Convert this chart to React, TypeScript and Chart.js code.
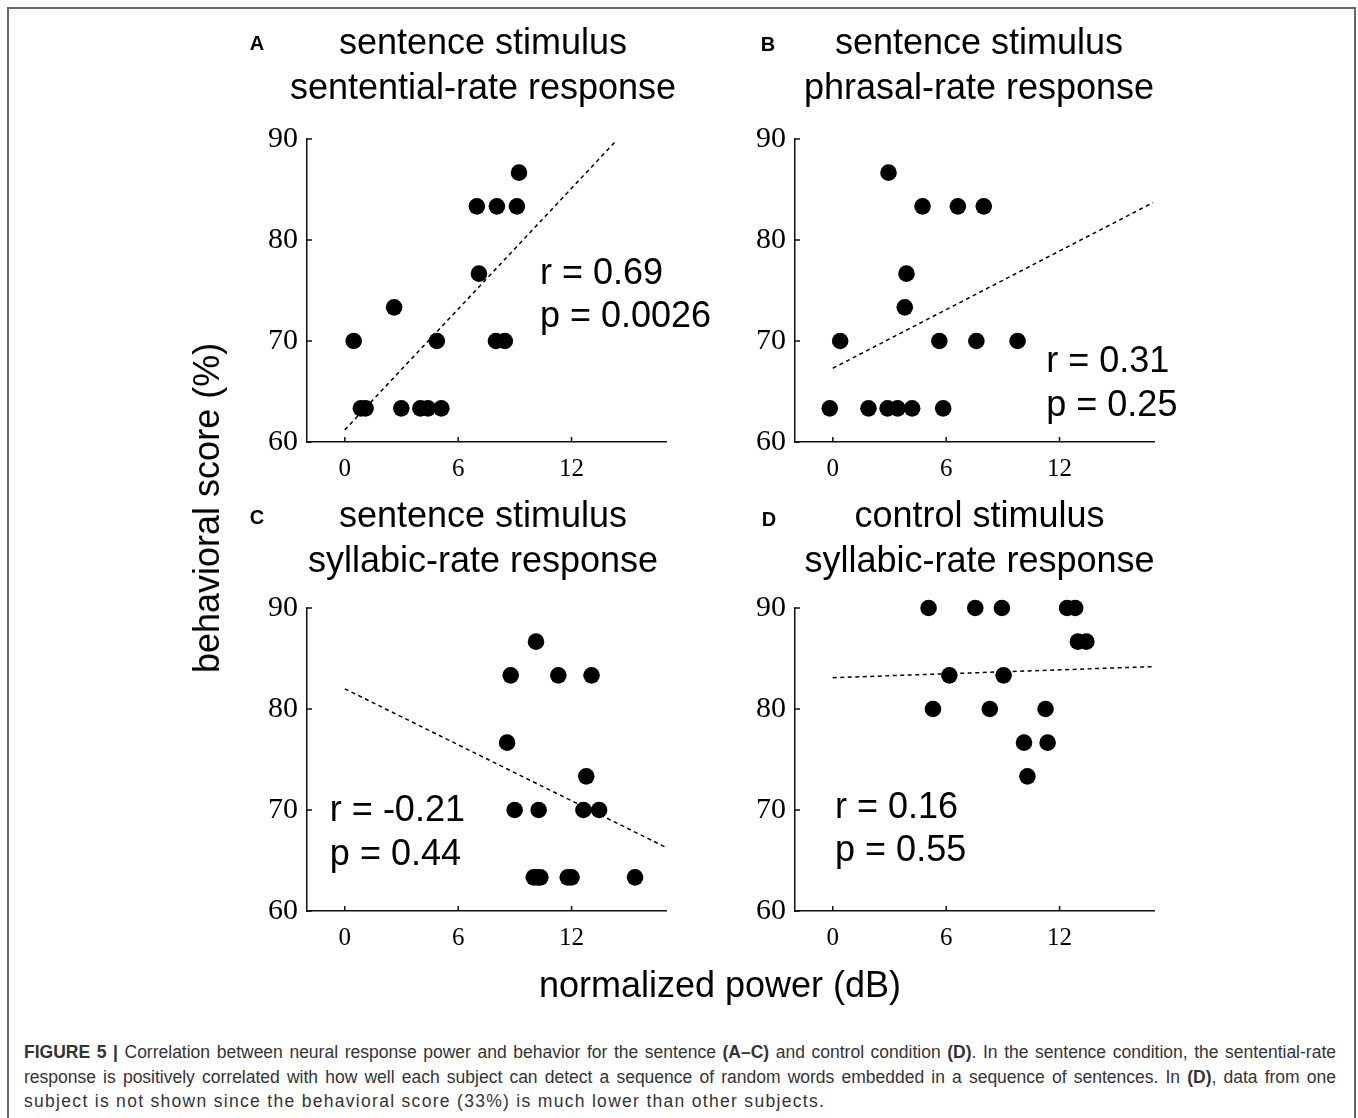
import React, { useEffect, useRef } from 'react';
import { Chart, registerables } from 'chart.js';

Chart.register(...registerables);

// ---------- data ----------
const X_TICKS = [0, 6, 12];
const Y_TICKS = [60, 70, 80, 90];
const X_MIN = -2;
const X_MAX = 17;
const Y_MIN = 60;
const Y_MAX = 90;

// Panel A: sentence stimulus, sentential-rate response
const A_X = [0.47, 0.85, 1.1, 2.61, 2.99, 4.0, 4.4, 5.11, 4.87, 6.99, 8.05, 9.11, 7.1, 8.0, 8.47, 9.22];
const A_Y = [70, 63.33, 63.33, 73.33, 63.33, 63.33, 63.33, 63.33, 70, 83.33, 83.33, 83.33, 76.67, 70, 70, 86.67];
const A_FIT_X = [0, 14.4];
const A_FIT_Y = [61.2, 89.9];

// Panel B: sentence stimulus, phrasal-rate response
const B_X = [2.95, 4.75, 6.62, 7.99, 3.9, 3.81, 0.39, 5.64, 7.6, 9.78, -0.16, 1.89, 2.9, 3.43, 4.2, 5.84];
const B_Y = [86.67, 83.33, 83.33, 83.33, 76.67, 73.33, 70, 70, 70, 70, 63.33, 63.33, 63.33, 63.33, 63.33, 63.33];
const B_FIT_X = [0, 16.95];
const B_FIT_Y = [67.3, 83.7];

// Panel C: sentence stimulus, syllabic-rate response
const C_X = [10.12, 8.78, 11.3, 13.06, 8.59, 12.78, 8.99, 10.26, 12.63, 13.46, 10.0, 10.2, 10.35, 11.8, 12.0, 15.36];
const C_Y = [86.67, 83.33, 83.33, 83.33, 76.67, 73.33, 70, 70, 70, 70, 63.33, 63.33, 63.33, 63.33, 63.33, 63.33];
const C_FIT_X = [0, 17];
const C_FIT_Y = [82.0, 66.3];

// Panel D: control stimulus, syllabic-rate response
const D_X = [5.07, 7.54, 8.95, 12.4, 12.83, 12.97, 13.42, 6.17, 9.04, 5.3, 8.31, 11.26, 10.12, 11.37, 10.3];
const D_Y = [90, 90, 90, 90, 90, 86.67, 86.67, 83.33, 83.33, 80, 80, 80, 76.67, 76.67, 73.33];
const D_FIT_X = [0, 17];
const D_FIT_Y = [83.1, 84.2];

const TITLE_A = ['sentence stimulus', 'sentential-rate response'];
const TITLE_B = ['sentence stimulus', 'phrasal-rate response'];
const TITLE_C = ['sentence stimulus', 'syllabic-rate response'];
const TITLE_D = ['control stimulus', 'syllabic-rate response'];

const STATS_A = ['r = 0.69', 'p = 0.0026'];
const STATS_B = ['r = 0.31', 'p = 0.25'];
const STATS_C = ['r = -0.21', 'p = 0.44'];
const STATS_D = ['r = 0.16', 'p = 0.55'];

const Y_LABEL = 'behavioral score (%)';
const X_LABEL = 'normalized power (dB)';

const CAPTION_1_PARTS: [string, boolean][] = [
  ['FIGURE 5 |', true],
  [' Correlation between neural response power and behavior for the sentence ', false],
  ['(A–C)', true],
  [' and control condition ', false],
  ['(D)', true],
  ['. In the sentence condition, the sentential-rate', false],
];
const CAPTION_2_PARTS: [string, boolean][] = [
  ['response is positively correlated with how well each subject can detect a sequence of random words embedded in a sequence of sentences. In ', false],
  ['(D)', true],
  [', data from one', false],
];
const CAPTION_3 = 'subject is not shown since the behavioral score (33%) is much lower than other subjects.';

// ---------- layout ----------
const PLOT_W = 359;
const PLOT_H = 303;
const PAD_L = 110;
const PAD_T = 139;
const PAD_R = 60;
const PAD_B = 60;
const Y_AXIS_W = 60;
const X_AXIS_H = 45;

const SANS = '"Liberation Sans", Arial, sans-serif';
const SERIF = '"Liberation Serif", "Times New Roman", serif';

type PanelCfg = {
  letter: string;
  xs: number[];
  ys: number[];
  fitX: number[];
  fitY: number[];
  title: string[];
  stats: string[];
  plotLeft: number;
  plotTop: number;
  titleDx: number;
  titleDy: number;
  letterDx: number;
  letterDy: number;
  statX: number;
  statY1: number;
  statY2: number;
};

const PANELS: PanelCfg[] = [
  { letter: 'A', xs: A_X, ys: A_Y, fitX: A_FIT_X, fitY: A_FIT_Y, title: TITLE_A, stats: STATS_A,
    plotLeft: 307, plotTop: 139, titleDx: 176, titleDy: -95, letterDx: -50, letterDy: -94.5,
    statX: 10.33, statY1: 76.73, statY2: 72.5 },
  { letter: 'B', xs: B_X, ys: B_Y, fitX: B_FIT_X, fitY: B_FIT_Y, title: TITLE_B, stats: STATS_B,
    plotLeft: 795, plotTop: 139, titleDx: 184, titleDy: -95, letterDx: -27, letterDy: -94,
    statX: 11.3, statY1: 67.98, statY2: 63.69 },
  { letter: 'C', xs: C_X, ys: C_Y, fitX: C_FIT_X, fitY: C_FIT_Y, title: TITLE_C, stats: STATS_C,
    plotLeft: 307, plotTop: 608, titleDx: 176, titleDy: -91, letterDx: -50, letterDy: -90,
    statX: -0.79, statY1: 70.04, statY2: 65.6 },
  { letter: 'D', xs: D_X, ys: D_Y, fitX: D_FIT_X, fitY: D_FIT_Y, title: TITLE_D, stats: STATS_D,
    plotLeft: 795, plotTop: 608, titleDx: 184.5, titleDy: -91, letterDx: -26, letterDy: -88,
    statX: 0.12, statY1: 70.3, statY2: 66.0 },
];

function Panel({ cfg }: { cfg: PanelCfg }) {
  const ref = useRef<HTMLCanvasElement>(null);
  const cw = PAD_L + PLOT_W + PAD_R;
  const ch = PAD_T + PLOT_H + PAD_B;

  useEffect(() => {
    const canvas = ref.current;
    if (!canvas) return;

    const textPlugin = {
      id: 'panelText',
      afterDraw(chart: any) {
        const { ctx, chartArea: ca } = chart;
        const xs = chart.scales.x;
        const ys = chart.scales.y;
        ctx.save();
        // inward tick marks
        ctx.strokeStyle = '#111';
        ctx.lineWidth = 1.5;
        ctx.beginPath();
        X_TICKS.forEach((v) => {
          const px = xs.getPixelForValue(v);
          ctx.moveTo(px, ca.bottom);
          ctx.lineTo(px, ca.bottom - 5);
        });
        Y_TICKS.forEach((v) => {
          const py = ys.getPixelForValue(v);
          ctx.moveTo(ca.left, py);
          ctx.lineTo(ca.left + 5, py);
        });
        ctx.stroke();

        ctx.fillStyle = '#000';
        // title
        ctx.font = `36px ${SANS}`;
        ctx.textAlign = 'center';
        ctx.textBaseline = 'middle';
        cfg.title.forEach((line, i) => {
          ctx.fillText(line, ca.left + cfg.titleDx, ca.top + cfg.titleDy + i * 45);
        });
        // letter
        ctx.font = `bold 20px ${SANS}`;
        ctx.fillText(cfg.letter, ca.left + cfg.letterDx, ca.top + cfg.letterDy);
        // stats
        ctx.font = `36px ${SANS}`;
        ctx.textAlign = 'left';
        const sx = xs.getPixelForValue(cfg.statX);
        ctx.fillText(cfg.stats[0], sx, ys.getPixelForValue(cfg.statY1) + 1);
        ctx.fillText(cfg.stats[1], sx, ys.getPixelForValue(cfg.statY2) + 1);
        ctx.restore();
      },
    };

    const chart = new Chart(canvas, {
      type: 'scatter',
      data: {
        datasets: [
          {
            data: cfg.xs.map((x, i) => ({ x, y: cfg.ys[i] })),
            pointRadius: 8.3,
            pointHoverRadius: 8.3,
            pointBackgroundColor: '#000',
            pointBorderColor: '#000',
            pointBorderWidth: 0,
            clip: false as any,
            order: 1,
          },
          {
            data: cfg.fitX.map((x, i) => ({ x, y: cfg.fitY[i] })),
            showLine: true,
            borderColor: '#000',
            borderWidth: 1.5,
            borderDash: [4, 3.5],
            pointRadius: 0,
            pointHoverRadius: 0,
            fill: false,
            clip: false as any,
            order: 2,
          },
        ],
      },
      options: {
        animation: false,
        responsive: false,
        devicePixelRatio: 1,
        events: [],
        layout: {
          padding: { left: PAD_L - Y_AXIS_W, right: PAD_R, top: PAD_T, bottom: PAD_B - X_AXIS_H },
        },
        plugins: {
          legend: { display: false },
          tooltip: { enabled: false },
          title: { display: false },
        },
        scales: {
          x: {
            type: 'linear',
            min: X_MIN,
            max: X_MAX,
            afterBuildTicks: (s: any) => {
              s.ticks = X_TICKS.map((v) => ({ value: v }));
            },
            afterFit: (s: any) => {
              s.height = X_AXIS_H;
            },
            ticks: {
              color: '#000',
              padding: 12,
              font: { family: SERIF, size: 25 },
              maxRotation: 0,
              autoSkip: false,
            },
            grid: { display: false, drawTicks: false },
            border: { display: true, color: '#111', width: 1.5 },
          },
          y: {
            type: 'linear',
            min: Y_MIN,
            max: Y_MAX,
            afterBuildTicks: (s: any) => {
              s.ticks = Y_TICKS.map((v) => ({ value: v }));
            },
            afterFit: (s: any) => {
              s.width = Y_AXIS_W;
            },
            ticks: {
              color: '#000',
              padding: 9,
              font: { family: SERIF, size: 30 },
              autoSkip: false,
            },
            grid: { display: false, drawTicks: false },
            border: { display: true, color: '#111', width: 1.5 },
          },
        },
      },
      plugins: [textPlugin],
    } as any);

    return () => chart.destroy();
  }, [cfg]);

  return (
    <canvas
      ref={ref}
      width={cw}
      height={ch}
      style={{
        position: 'absolute',
        left: cfg.plotLeft - PAD_L,
        top: cfg.plotTop - PAD_T,
        width: cw,
        height: ch,
      }}
    />
  );
}

function CaptionLine({ parts, top, justify, spacing }: { parts: [string, boolean][]; top: number; justify: boolean; spacing?: number }) {
  return (
    <div
      style={{
        position: 'absolute',
        left: 24,
        top,
        width: 1312,
        whiteSpace: 'nowrap',
        textAlign: justify ? 'justify' : 'left',
        textAlignLast: justify ? 'justify' : 'left',
        font: `17.5px ${SANS}`,
        letterSpacing: spacing ? `${spacing}px` : 'normal',
        lineHeight: '24px',
        color: '#333',
      } as any}
    >
      {parts.map(([t, b], i) => (
        <span key={i} style={{ fontWeight: b ? 'bold' : 'normal' }}>
          {t}
        </span>
      ))}
    </div>
  );
}

export default function App() {
  return (
    <div
      style={{
        position: 'absolute',
        left: 0,
        top: 0,
        width: 1358,
        height: 1118,
        overflow: 'hidden',
        background: '#fff',
      }}
    >
      <div
        style={{
          position: 'absolute',
          left: 7,
          top: 7,
          width: 1349,
          height: 1140,
          border: '2px solid #666',
          boxSizing: 'border-box',
        }}
      />
      {PANELS.map((p) => (
        <Panel key={p.letter} cfg={p} />
      ))}
      <div
        style={{
          position: 'absolute',
          left: 207,
          top: 508,
          transform: 'translate(-50%, -50%) rotate(-90deg)',
          whiteSpace: 'nowrap',
          font: `36px ${SANS}`,
          color: '#000',
        }}
      >
        {Y_LABEL}
      </div>
      <div
        style={{
          position: 'absolute',
          left: 720,
          top: 985,
          transform: 'translate(-50%, -50%)',
          whiteSpace: 'nowrap',
          font: `36px ${SANS}`,
          color: '#000',
        }}
      >
        {X_LABEL}
      </div>
      <CaptionLine parts={CAPTION_1_PARTS} top={1040} justify={true} />
      <CaptionLine parts={CAPTION_2_PARTS} top={1065} justify={true} />
      <CaptionLine parts={[[CAPTION_3, false]]} top={1089} justify={false} spacing={1.3} />
    </div>
  );
}
